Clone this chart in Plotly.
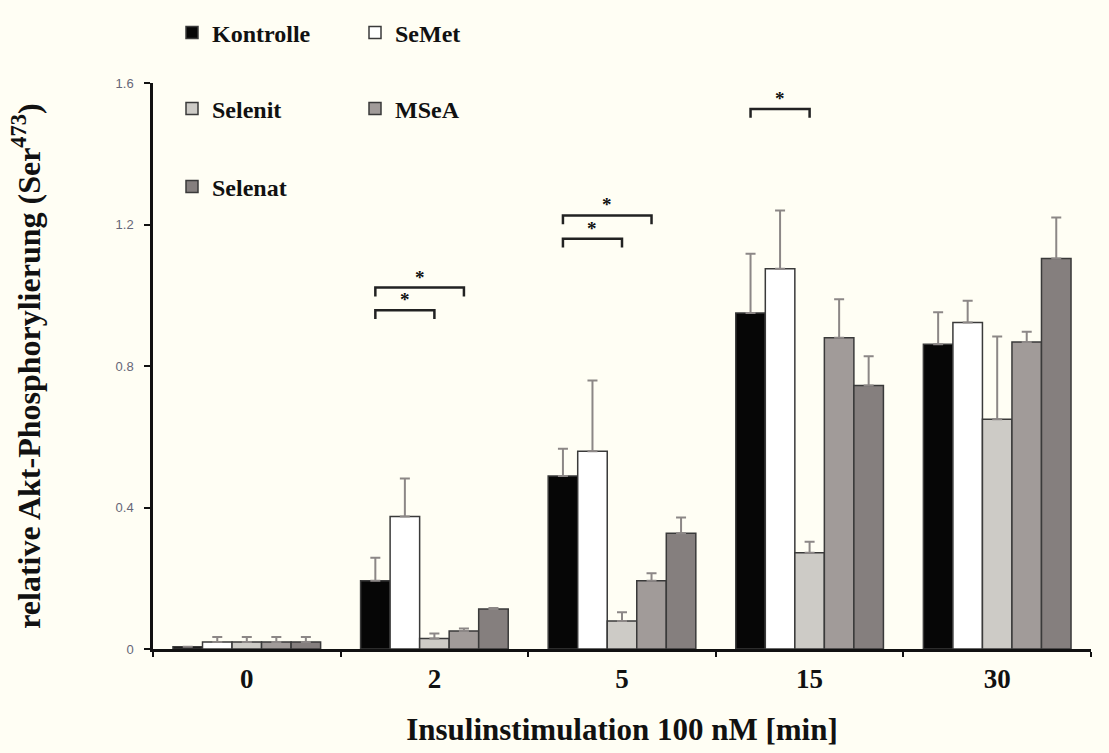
import plotly.graph_objects as go

categories = ["0", "2", "5", "15", "30"]
series_names = ["Kontrolle", "SeMet", "Selenit", "MSeA", "Selenat"]
values = {
    "Kontrolle": [0.006, 0.193, 0.489, 0.950, 0.862],
    "SeMet":     [0.020, 0.375, 0.559, 1.075, 0.923],
    "Selenit":   [0.020, 0.030, 0.079, 0.272, 0.650],
    "MSeA":      [0.020, 0.051, 0.193, 0.880, 0.868],
    "Selenat":   [0.020, 0.113, 0.327, 0.745, 1.104],
}
errors = {
    "Kontrolle": [0.000, 0.065, 0.077, 0.168, 0.090],
    "SeMet":     [0.014, 0.107, 0.200, 0.165, 0.062],
    "Selenit":   [0.014, 0.014, 0.025, 0.031, 0.234],
    "MSeA":      [0.014, 0.007, 0.021, 0.109, 0.029],
    "Selenat":   [0.014, 0.003, 0.045, 0.083, 0.116],
}
fill_colors = ["#060606", "#FFFFFF", "#CDCBC6", "#A19B99", "#857F7E"]
# significance brackets: (category index, bar i, bar j, y level)
brackets = [(1, 0, 2, 0.958), (1, 0, 3, 1.022), (2, 0, 2, 1.160), (2, 0, 3, 1.226), (3, 0, 2, 1.527)]

BG = "#FFFEF4"
BARGAP = 0.213
n = len(series_names)
bw = (1 - BARGAP) / n

W, H = 1109, 753
ML, MR, MT, MB = 153, 18, 10, 104
plot_h = H - MT - MB          # paper height in px
axis_top_px = 76              # pixel row of y = 1.6
y_dom_top = (H - MB - axis_top_px) / plot_h

def paper_y(px):
    return (H - MB - px) / plot_h

def paper_x(px):
    return (px - ML) / (W - ML - MR)

legend_rows = {"Kontrolle": "legend", "SeMet": "legend", "Selenit": "legend2", "MSeA": "legend2", "Selenat": "legend3"}

fig = go.Figure()
for k, name in enumerate(series_names):
    fig.add_trace(go.Bar(
        x=categories, y=values[name], name=name,
        marker=dict(color=fill_colors[k], line=dict(color="#3a3a3a", width=1.5)),
        error_y=dict(type="data", array=errors[name], arrayminus=[0] * len(categories),
                     symmetric=False, color="#8c8786", thickness=2, width=5),
        legend=legend_rows[name],
    ))

def bar_center(cat, i):
    return cat - (1 - BARGAP) / 2 + (i + 0.5) * bw

shapes = []
annotations = []
for cat, i, j, yl in brackets:
    x0 = bar_center(cat, i)
    x1 = bar_center(cat, j)
    shapes.append(dict(type="path", xref="x", yref="y",
                       path=f"M{x0},{yl - 0.025} L{x0},{yl} L{x1},{yl} L{x1},{yl - 0.025}",
                       line=dict(color="#222222", width=2.5)))
    annotations.append(dict(x=(x0 + x1) / 2, y=yl, xref="x", yref="y", text="<b>*</b>",
                            showarrow=False, yanchor="bottom", yshift=-2,
                            font=dict(family="Liberation Serif", size=19, color="#111111")))

legend_font = dict(family="Liberation Serif", size=24, color="#111111", weight="bold")
common_legend = dict(orientation="h", xanchor="left", yanchor="middle",
                     bgcolor="rgba(0,0,0,0)", font=legend_font,
                     entrywidth=138, entrywidthmode="pixels")

fig.update_layout(
    width=W, height=H,
    paper_bgcolor=BG, plot_bgcolor=BG,
    margin=dict(l=ML, r=MR, t=MT, b=MB),
    barmode="group", bargap=BARGAP, bargroupgap=0,
    showlegend=True,
    legend=dict(**common_legend, x=paper_x(172), y=paper_y(25)),
    legend2=dict(**common_legend, x=paper_x(172), y=paper_y(102)),
    legend3=dict(**common_legend, x=paper_x(172), y=paper_y(181)),
    shapes=shapes,
    annotations=annotations,
    xaxis=dict(
        type="category", tickson="boundaries", ticks="outside", ticklen=5, tickwidth=2,
        tickcolor="#111111", showline=True, linecolor="#111111", linewidth=2.5,
        showgrid=False, zeroline=False, ticklabelstandoff=4,
        tickfont=dict(family="Liberation Serif", size=27, color="#111111"),
        tickprefix="<b>", ticksuffix="</b>",
        title=dict(text="<b>Insulinstimulation 100 nM [min]</b>", standoff=26,
                   font=dict(family="Liberation Serif", size=31, color="#111111")),
        range=[-0.5, 4.5],
    ),
    yaxis=dict(
        domain=[0, y_dom_top],
        range=[0, 1.6], tickvals=[0, 0.4, 0.8, 1.2, 1.6], ticktext=["0", "0.4", "0.8", "1.2", "1.6"],
        ticks="outside", ticklen=6, tickwidth=2, tickcolor="#111111",
        showline=True, linecolor="#111111", linewidth=2.5, showgrid=False, zeroline=False,
        ticklabelstandoff=8,
        tickfont=dict(family="Liberation Sans", size=13, color="#666677"),
        title=dict(text="<b>relative Akt-Phosphorylierung (Ser<sup>473</sup>)</b>", standoff=66,
                   font=dict(family="Liberation Serif", size=32, color="#111111")),
    ),
)

fig.write_html("out.html")
